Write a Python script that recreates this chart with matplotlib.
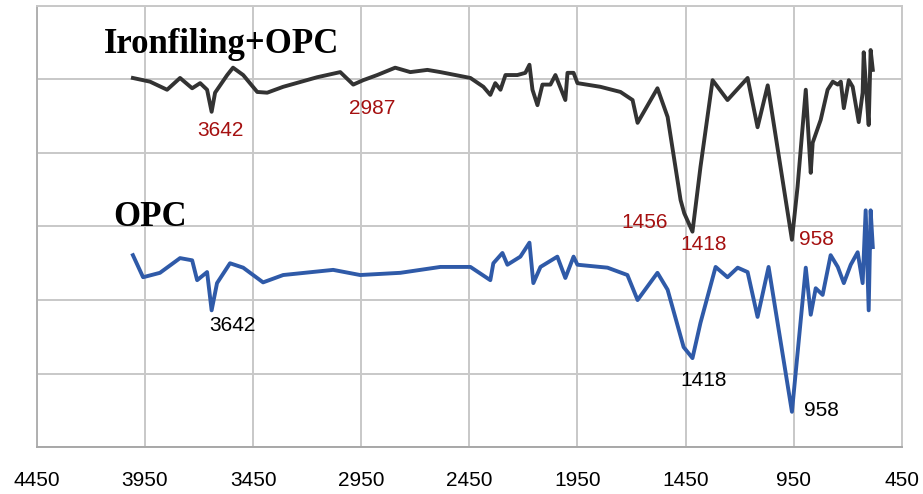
import numpy as np
import matplotlib
matplotlib.use("Agg")
import matplotlib.pyplot as plt

# FTIR spectra, wavenumber (cm-1) vs offset transmittance (arbitrary units)
wn_iron = [4006, 3927, 3848, 3788, 3732, 3695, 3663, 3642, 3626, 3570,
           3543, 3496, 3431, 3385, 3311, 3154, 3047, 2987, 2941, 2876,
           2793, 2723, 2644, 2584, 2445, 2385, 2353, 2330, 2306, 2283,
           2228, 2191, 2172, 2158, 2135, 2112, 2075, 2052, 2006, 1996,
           1968, 1950, 1844, 1751, 1695, 1672, 1580, 1533, 1473, 1456,
           1418, 1381, 1325, 1256, 1163, 1117, 1070, 958, 932, 894,
           871, 862, 825, 793, 769, 746, 732, 718, 695, 677,
           649, 631, 626, 607, 603, 594, 584]
t_iron = [5.02, 4.97, 4.86, 5.02, 4.88, 4.95, 4.86, 4.56, 4.82, 5.06,
          5.16, 5.06, 4.83, 4.82, 4.90, 5.03, 5.10, 4.93, 4.99, 5.06,
          5.16, 5.10, 5.13, 5.10, 5.02, 4.90, 4.79, 4.95, 4.86, 5.06,
          5.06, 5.09, 5.20, 4.86, 4.65, 4.93, 4.93, 5.06, 4.72, 5.09,
          5.09, 4.95, 4.90, 4.83, 4.72, 4.41, 4.88, 4.49, 3.36, 3.18,
          2.93, 3.81, 4.99, 4.72, 5.02, 4.35, 4.92, 2.82, 3.54, 4.86,
          3.73, 4.14, 4.45, 4.86, 4.97, 4.93, 4.97, 4.61, 4.99, 4.90,
          4.42, 4.82, 5.37, 4.54, 4.38, 5.40, 5.13]

wn_opc = [4006, 3959, 3881, 3788, 3732, 3709, 3663, 3642, 3617, 3557,
          3496, 3404, 3311, 3080, 2955, 2769, 2584, 2445, 2353, 2339,
          2297, 2274, 2214, 2172, 2154, 2121, 2043, 2006, 1968, 1950,
          1811, 1719, 1672, 1580, 1533, 1459, 1418, 1381, 1311, 1256,
          1209, 1163, 1117, 1066, 958, 894, 871, 848, 816, 779,
          746, 718, 686, 654, 631, 617, 603, 594, 584]
t_opc = [2.61, 2.31, 2.37, 2.57, 2.54, 2.27, 2.38, 1.86, 2.23, 2.50,
         2.44, 2.24, 2.34, 2.41, 2.34, 2.37, 2.45, 2.45, 2.27, 2.50,
         2.64, 2.48, 2.59, 2.78, 2.23, 2.45, 2.59, 2.30, 2.59, 2.48,
         2.44, 2.34, 2.00, 2.37, 2.14, 1.36, 1.21, 1.69, 2.45, 2.31,
         2.44, 2.38, 1.77, 2.45, 0.48, 2.44, 1.80, 2.16, 2.07, 2.61,
         2.45, 2.23, 2.48, 2.65, 2.23, 3.22, 1.86, 3.22, 2.72]

xticks = list(range(4450, 449, -500))

fig = plt.figure(figsize=(9.23, 4.94), dpi=100)
ax = fig.add_axes([0.040, 0.095, 0.937, 0.893])

ax.plot(wn_iron, t_iron, color='#333333', lw=2.8, solid_joinstyle='round')
ax.plot(wn_opc, t_opc, color='#2f5aa8', lw=2.8, solid_joinstyle='round')

ax.set_xlim(4450, 450)
ax.set_ylim(0, 6)
ax.set_xticks(xticks)
ax.set_xticklabels([str(x) for x in xticks], fontsize=15, family='Liberation Sans')
ax.set_yticks(range(0, 7))
ax.set_yticklabels([])
ax.tick_params(length=0)
ax.tick_params(axis='x', pad=17)
ax.grid(True, color='#c8c8c8', lw=1.4)
ax.set_axisbelow(True)
for s in ax.spines.values():
    s.set_color('#c8c8c8')
    s.set_linewidth(1.4)
ax.spines['bottom'].set_color('#a8a8a8')
ax.spines['left'].set_color('#b0b0b0')

# series names
ax.text(3598, 5.47, 'Ironfiling+OPC', fontsize=25, fontweight='bold',
        family='Liberation Serif', ha='center', va='center')
ax.text(3927, 3.12, 'OPC', fontsize=25, fontweight='bold',
        family='Liberation Serif', ha='center', va='center')

# peak labels
red = '#a51010'
for x, y, s in [(3603, 4.31, '3642'), (2899, 4.61, '2987'), (1640, 3.06, '1456'),
                (1367, 2.75, '1418'), (844, 2.82, '958')]:
    ax.text(x, y, s, color=red, fontsize=15, family='Liberation Sans',
            ha='center', va='center')
for x, y, s in [(3547, 1.66, '3642'), (1367, 0.90, '1418'), (820, 0.50, '958')]:
    ax.text(x, y, s, color='black', fontsize=15, family='Liberation Sans',
            ha='center', va='center')

plt.savefig('out.png')
